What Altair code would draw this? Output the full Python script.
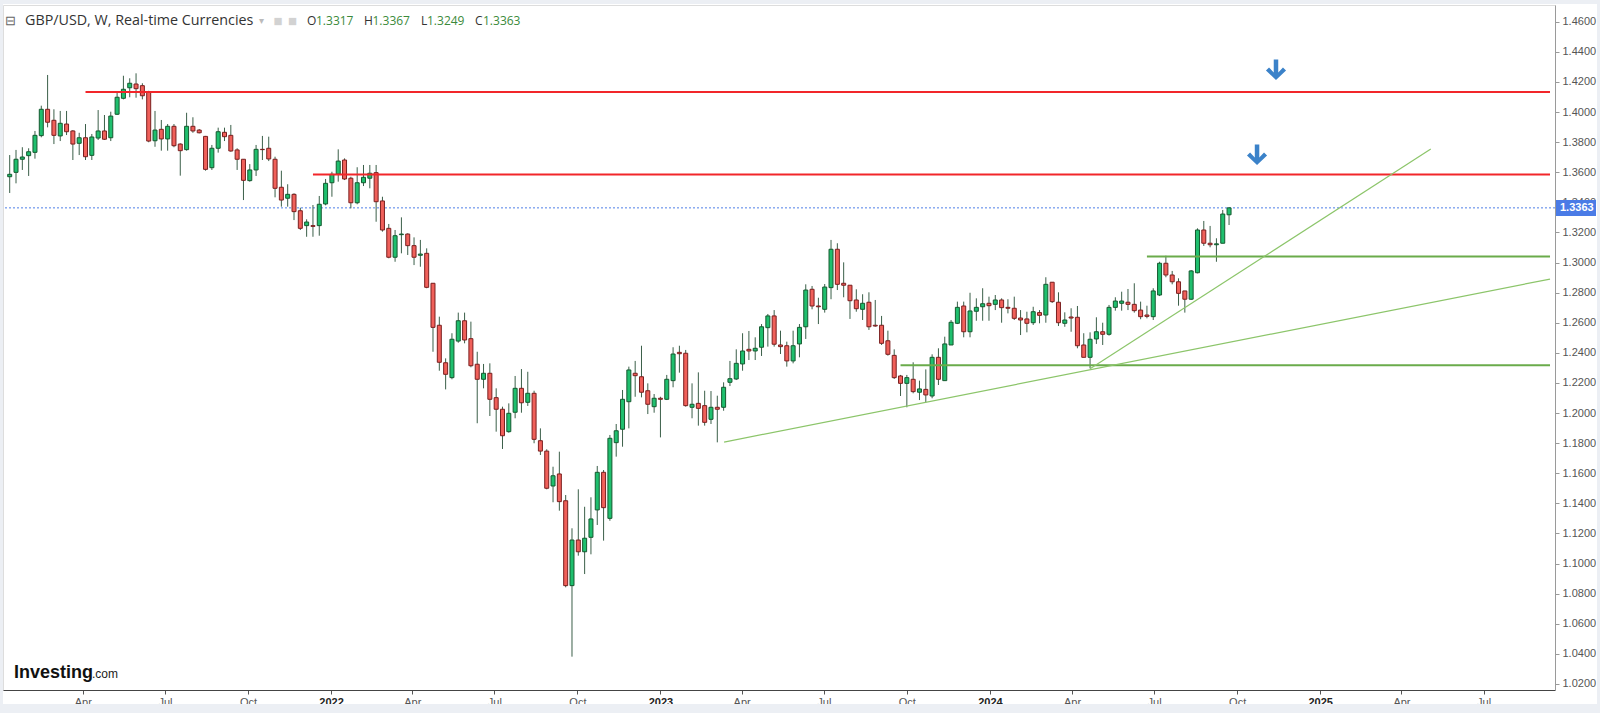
import altair as alt
import pandas as pd

# ---------------- data (weekly GBP/USD candles) ----------------
first_week = "2021-01-10"

opens = [1.3570,1.3599,1.3686,1.3710,1.3732,1.3843,1.4018,1.3945,1.3841,1.3920,
1.3874,1.3792,1.3829,1.3712,1.3827,1.3874,1.3829,1.3985,1.4091,1.4161,
1.4186,1.4175,1.4131,1.3809,1.3885,1.3821,1.3905,1.3787,1.3750,1.3905,
1.3880,1.3838,1.3630,1.3759,1.3865,1.3845,1.3748,1.3686,1.3544,1.3615,
1.3752,1.3759,1.3686,1.3500,1.3427,1.3453,1.3344,1.3245,1.3245,1.3245,
1.3389,1.3530,1.3588,1.3681,1.3560,1.3397,1.3530,1.3560,1.3597,1.3409,
1.3227,1.3035,1.3185,1.3189,1.3112,1.3048,1.3061,1.2862,1.2583,1.2334,
1.2235,1.2478,1.2613,1.2494,1.2324,1.2224,1.2264,1.2102,1.2025,1.1876,
1.2005,1.2164,1.2071,1.2131,1.1816,1.1747,1.1515,1.1595,1.1417,1.0853,
1.1156,1.1078,1.1174,1.1356,1.1606,1.1300,1.1803,1.1892,1.2075,1.2264,
1.2241,1.2148,1.2042,1.2098,1.2091,1.2215,1.2403,1.2397,1.2038,1.2064,
1.2049,1.1958,1.2038,1.2038,1.2204,1.2226,1.2326,1.2423,1.2412,1.2437,
1.2567,1.2645,1.2452,1.2447,1.2346,1.2459,1.2573,1.2822,1.2711,1.2689,
1.2833,1.3088,1.2862,1.2849,1.2751,1.2689,1.2736,1.2583,1.2583,1.2480,
1.2383,1.2246,1.2197,1.2224,1.2138,1.2157,1.2113,1.2370,1.2215,1.2452,
1.2596,1.2711,1.2540,1.2676,1.2706,1.2729,1.2722,1.2751,1.2702,1.2696,
1.2631,1.2625,1.2600,1.2667,1.2651,1.2869,1.2736,1.2596,1.2638,1.2636,
1.2452,1.2370,1.2492,1.2540,1.2523,1.2702,1.2729,1.2736,1.2722,1.2684,
1.2651,1.2640,1.2784,1.2995,1.2917,1.2872,1.2811,1.2756,1.2932,1.3216,
1.3128,1.3118,1.3128,1.3317]

closes = [1.3586,1.3686,1.3701,1.3736,1.3845,1.4018,1.3932,1.3845,1.3925,1.3869,
1.3787,1.3829,1.3703,1.3834,1.3874,1.3819,1.3973,1.4098,1.4151,1.4191,
1.4155,1.4108,1.3807,1.3880,1.3821,1.3905,1.3776,1.3743,1.3905,1.3874,
1.3862,1.3619,1.3759,1.3869,1.3836,1.3741,1.3686,1.3546,1.3615,1.3752,
1.3750,1.3688,1.3493,1.3415,1.3453,1.3338,1.3227,1.3269,1.3240,1.3387,
1.3526,1.3586,1.3674,1.3555,1.3397,1.3530,1.3566,1.3593,1.3404,1.3216,
1.3035,1.3178,1.3189,1.3112,1.3035,1.3056,1.2835,1.2569,1.2337,1.2257,
1.2490,1.2613,1.2485,1.2314,1.2224,1.2264,1.2091,1.2025,1.1849,1.1998,
1.2164,1.2068,1.2131,1.1825,1.1747,1.1500,1.1583,1.1411,1.0853,1.1156,
1.1078,1.1168,1.1296,1.1606,1.1371,1.1832,1.1882,1.2091,1.2286,1.2248,
1.2138,1.2058,1.2098,1.2091,1.2224,1.2392,1.2394,1.2049,1.2058,1.2031,
1.1938,1.2038,1.2025,1.2171,1.2228,1.2330,1.2412,1.2412,1.2430,1.2573,
1.2645,1.2457,1.2441,1.2346,1.2447,1.2569,1.2817,1.2711,1.2706,1.2837,
1.3088,1.2855,1.2849,1.2746,1.2693,1.2729,1.2573,1.2578,1.2463,1.2390,
1.2235,1.2197,1.2235,1.2142,1.2160,1.2120,1.2370,1.2224,1.2459,1.2603,
1.2702,1.2540,1.2678,1.2702,1.2726,1.2713,1.2751,1.2700,1.2696,1.2629,
1.2618,1.2596,1.2673,1.2649,1.2855,1.2740,1.2600,1.2618,1.2631,1.2447,
1.2370,1.2490,1.2540,1.2523,1.2702,1.2744,1.2744,1.2722,1.2680,1.2640,
1.2642,1.2811,1.2995,1.2917,1.2872,1.2795,1.2756,1.2944,1.3216,1.3128,
1.3118,1.3124,1.3322,1.3363]

highs = [1.3714,1.3748,1.3766,1.3759,1.3874,1.4042,1.4246,1.4018,1.4007,1.4007,
1.3880,1.3862,1.3920,1.3854,1.4013,1.3980,1.4002,1.4128,1.4241,1.4224,
1.4257,1.4191,1.4141,1.4007,1.3947,1.3920,1.3920,1.3792,1.3995,1.3965,
1.3887,1.3841,1.3781,1.3896,1.3896,1.3914,1.3759,1.3686,1.3654,1.3781,
1.3841,1.3836,1.3703,1.3610,1.3520,1.3460,1.3364,1.3287,1.3382,1.3442,
1.3555,1.3603,1.3752,1.3692,1.3570,1.3633,1.3648,1.3648,1.3648,1.3437,
1.3256,1.3216,1.3300,1.3194,1.3167,1.3150,1.3094,1.2862,1.2640,1.2363,
1.2530,1.2667,1.2667,1.2607,1.2407,1.2326,1.2330,1.2164,1.2042,1.2064,
1.2246,1.2292,1.2274,1.2148,1.1898,1.1759,1.1643,1.1743,1.1455,1.1234,
1.1493,1.1377,1.1440,1.1648,1.1621,1.1854,1.1927,1.2153,1.2308,1.2346,
1.2447,1.2197,1.2126,1.2108,1.2253,1.2437,1.2447,1.2419,1.2197,1.2270,
1.2148,1.2146,1.2115,1.2204,1.2346,1.2423,1.2530,1.2545,1.2503,1.2591,
1.2658,1.2684,1.2547,1.2474,1.2547,1.2591,1.2855,1.2844,1.2766,1.2857,
1.3150,1.3128,1.3001,1.2849,1.2822,1.2789,1.2802,1.2751,1.2645,1.2547,
1.2423,1.2253,1.2253,1.2337,1.2215,1.2290,1.2390,1.2430,1.2507,1.2618,
1.2740,1.2740,1.2799,1.2762,1.2829,1.2773,1.2784,1.2762,1.2756,1.2773,
1.2684,1.2673,1.2706,1.2684,1.2902,1.2869,1.2802,1.2669,1.2696,1.2711,
1.2530,1.2536,1.2636,1.2600,1.2718,1.2769,1.2806,1.2824,1.2862,1.2740,
1.2713,1.2829,1.3005,1.3045,1.2944,1.2895,1.2811,1.2950,1.3227,1.3276,
1.3243,1.3161,1.3349,1.3367]

lows = [1.3462,1.3526,1.3615,1.3575,1.3690,1.3832,1.3898,1.3787,1.3807,1.3847,
1.3681,1.3714,1.3681,1.3681,1.3814,1.3814,1.3807,1.3980,1.4084,1.4098,
1.4095,1.4084,1.3799,1.3769,1.3743,1.3743,1.3766,1.3577,1.3743,1.3862,
1.3858,1.3610,1.3615,1.3730,1.3807,1.3736,1.3615,1.3415,1.3537,1.3575,
1.3681,1.3674,1.3433,1.3371,1.3371,1.3282,1.3216,1.3171,1.3171,1.3178,
1.3380,1.3437,1.3537,1.3548,1.3360,1.3387,1.3508,1.3493,1.3271,1.3205,
1.3028,1.3005,1.3061,1.3050,1.2983,1.2972,1.2829,1.2407,1.2281,1.2157,
1.2224,1.2467,1.2463,1.2304,1.1932,1.2164,1.1980,1.1876,1.1761,1.1869,
1.1965,1.2002,1.2047,1.1799,1.1721,1.1493,1.1407,1.1351,1.0842,1.0381,
1.1052,1.0930,1.1061,1.1256,1.1152,1.1284,1.1710,1.1776,1.1898,1.2108,
1.2104,1.1993,1.2002,1.1838,1.2086,1.2171,1.2268,1.2042,1.1965,1.1916,
1.1916,1.1927,1.1805,1.2015,1.2179,1.2219,1.2281,1.2352,1.2352,1.2379,
1.2441,1.2441,1.2392,1.2308,1.2330,1.2370,1.2492,1.2689,1.2591,1.2667,
1.2756,1.2817,1.2769,1.2625,1.2673,1.2618,1.2552,1.2573,1.2452,1.2381,
1.2226,1.2113,1.2038,1.2131,1.2086,1.2071,1.2098,1.2186,1.2215,1.2452,
1.2591,1.2503,1.2503,1.2613,1.2613,1.2613,1.2684,1.2600,1.2662,1.2618,
1.2518,1.2536,1.2585,1.2596,1.2600,1.2731,1.2578,1.2573,1.2540,1.2430,
1.2370,1.2297,1.2459,1.2452,1.2514,1.2680,1.2680,1.2684,1.2667,1.2623,
1.2629,1.2618,1.2777,1.2902,1.2855,1.2713,1.2667,1.2751,1.2928,1.3110,
1.3101,1.3005,1.3128,1.3249]

# horizontal drawings (start date, price, colour)
hline_start = ["2021-04-04T00:00:00", "2021-12-12T00:00:00", "2024-06-23T00:00:00", "2023-09-24T00:00:00"]
hline_price = [1.4133, 1.3585, 1.3040, 1.2317]
hline_kind = ["red", "red", "green", "green"]

# trend lines
trend_start = ["2023-03-12T12:00:00", "2024-04-21T00:00:00"]
trend_end = ["2025-09-12T14:00:00", "2025-05-03T12:00:00"]
trend_p0 = [1.1807, 1.2294]
trend_p1 = [1.2890, 1.3754]

# arrows
arrow_date = ["2024-11-13T00:00:00", "2024-10-23T00:00:00"]
arrow_price = [1.4281, 1.3716]

y_ticks = [1.02, 1.04, 1.06, 1.08, 1.10, 1.12, 1.14, 1.16, 1.18, 1.20, 1.22, 1.24,
           1.26, 1.28, 1.30, 1.32, 1.34, 1.36, 1.38, 1.40, 1.42, 1.44, 1.46]
x_tick_months = [(2021, 4), (2021, 7), (2021, 10), (2022, 1), (2022, 4), (2022, 7), (2022, 10),
                 (2023, 1), (2023, 4), (2023, 7), (2023, 10), (2024, 1), (2024, 4), (2024, 7),
                 (2024, 10), (2025, 1), (2025, 4), (2025, 7)]

ohlc_letters = ["O", "H", "L", "C"]
ohlc_values = ["1.3317", "1.3367", "1.3249", "1.3363"]
last_price = "1.3363"

# ---------------- build ----------------
week_dates = pd.date_range(first_week, periods=len(opens), freq="7D").strftime("%Y-%m-%dT00:00:00")
candles = pd.DataFrame({"date": list(week_dates), "open": opens, "high": highs,
                        "low": lows, "close": closes})

W, H = 1552, 685
x_scale = alt.Scale(domain=[alt.DateTime(year=2021, month=1, date=8, hours=3),
                            alt.DateTime(year=2025, month=9, date=12, hours=14)], nice=False)
y_scale = alt.Scale(domain=[1.01595, 1.4711], nice=False, zero=False)

NARROW = "'Liberation Sans Narrow', 'Liberation Sans', Arial, sans-serif"

x_axis = alt.Axis(
    values=[alt.DateTime(year=y, month=m, date=1) for (y, m) in x_tick_months],
    labelExpr="month(datum.value) == 0 ? timeFormat(datum.value, '%Y') : timeFormat(datum.value, '%b')",
    labelFontWeight={"condition": {"test": "month(datum.value) == 0", "value": "bold"}, "value": "normal"},
    labelColor={"condition": {"test": "month(datum.value) == 0", "value": "#222222"}, "value": "#555555"},
    title=None, grid=False, tickSize=4, labelPadding=2, labelFontSize=11, labelFont=NARROW,
    domainColor="#444444", tickColor="#555555", labelFlush=False, labelOverlap=False,
)
y_axis = alt.Axis(
    orient="right", values=y_ticks, format=".4f", title=None, grid=False, tickSize=4,
    labelPadding=3, labelFontSize=11, labelFont=NARROW, labelColor="#555555",
    domainColor="#9a9a9a", tickColor="#9a9a9a", labelFlush=False, labelOverlap=False,
)


def X(field):
    return alt.X(field, scale=x_scale, axis=x_axis)


def Y(field):
    return alt.Y(field, scale=y_scale, axis=y_axis)


one = pd.DataFrame({"k": [0]})
FRAME = "#eceff4"


def strip(x0, x1, y0, y1):
    return alt.Chart(one).mark_rect(color=FRAME).encode(
        x=alt.value(x0), x2=alt.value(x1), y=alt.value(y0), y2=alt.value(y1))


# light grey frame around the chart (left, top, right, bottom band)
frame = [strip(-3, 0, -5, 708), strip(-3, 1597, -5, -1), strip(1594, 1597, -5, 708),
         strip(-3, 1597, 699, 708)]

last_line = alt.Chart(candles.tail(1)).mark_rule(color="#4f7fe8", strokeDash=[2, 2], strokeWidth=1).encode(
    y=Y("close:Q"))

wicks = alt.Chart(candles).mark_rule(color="#3b5f49", strokeWidth=1).encode(
    x=X("date:T"), y=Y("low:Q"), y2="high:Q")

is_down = "datum.open > datum.close"
bodies = alt.Chart(candles).mark_bar(size=4, strokeWidth=1).encode(
    x=X("date:T"),
    y=Y("open:Q"),
    y2="close:Q",
    color=alt.condition(is_down, alt.value("#f0605a"), alt.value("#1fbf6e")),
    stroke=alt.condition(is_down, alt.value("#7a1f1f"), alt.value("#15592f")),
)

hdf = pd.DataFrame({"start": hline_start, "end": trend_end[0], "price": hline_price, "kind": hline_kind})
hlines = alt.Chart(hdf).mark_rule(strokeWidth=2).encode(
    x=X("start:T"),
    x2="end:T",
    y=Y("price:Q"),
    color=alt.Color("kind:N", scale=alt.Scale(domain=["red", "green"], range=["#f2262a", "#6aab4b"]), legend=None),
)

tdf = pd.DataFrame({"start": trend_start, "end": trend_end, "p0": trend_p0, "p1": trend_p1})
tlines = alt.Chart(tdf).mark_rule(strokeWidth=1.2, color="#8cc56a").encode(
    x=X("start:T"), x2="end:T", y=Y("p0:Q"), y2="p1:Q")

arrow_path = "M -0.22 -1 L 0.22 -1 L 0.22 0.26 L 0.68 -0.22 L 0.98 0.08 L 0 1 L -0.98 0.08 L -0.68 -0.22 L -0.22 0.26 Z"
adf = pd.DataFrame({"date": arrow_date, "price": arrow_price})
arrows = alt.Chart(adf).mark_point(shape=arrow_path, filled=True, size=420, color="#3b82c9", opacity=1).encode(
    x=X("date:T"), y=Y("price:Q"))

tag_box = alt.Chart(one).mark_rect(color="#4a7be6").encode(
    x=alt.value(1553), x2=alt.value(1593), y=alt.value(195), y2=alt.value(211))
tag_text = alt.Chart(candles.tail(1)).mark_text(
    text=last_price, color="#ffffff", fontSize=11, fontWeight="bold", font="Liberation Sans",
    align="left", baseline="middle").encode(
    x=alt.value(1557), y=Y("close:Q"))


def label(text, x, y, **kw):
    return alt.Chart(one).mark_text(text=text, **kw).encode(x=alt.value(x), y=alt.value(y))


header = [
    label("⊟", 7, 16, fontSize=13, color="#666666", align="center", baseline="middle"),
    label("GBP/USD, W, Real-time Currencies", 22, 16, fontSize=14.3, color="#333333",
          font="Open Sans", align="left", baseline="middle"),
    label("▾", 258, 16, fontSize=10, color="#bbbbbb", align="center", baseline="middle"),
    label("■", 275, 16, fontSize=15, color="#d2d2d2", align="center", baseline="middle"),
    label("■", 289.5, 16, fontSize=15, color="#d2d2d2", align="center", baseline="middle"),
]
ohlc_x = [304, 361, 418, 472]
ohlc_gap = [9, 8.5, 6, 8]
for letter, val, px, gap in zip(ohlc_letters, ohlc_values, ohlc_x, ohlc_gap):
    header.append(label(letter, px, 16, fontSize=12, color="#333333", font="Open Sans",
                        align="left", baseline="middle"))
    header.append(label(val, px + gap, 16, fontSize=12, color="#3b8a3b", font="Open Sans",
                        align="left", baseline="middle"))

logo = [
    label("Investing", 11, 673, fontSize=18, fontWeight="bold", color="#111111",
          font="Liberation Sans", align="left", baseline="alphabetic"),
    label(".com", 89, 673, fontSize=12, color="#222222", font="Liberation Sans",
          align="left", baseline="alphabetic"),
]

chart = alt.layer(
    *frame, last_line, wicks, bodies, hlines, tlines, arrows,
    tag_box, tag_text, *header, *logo,
).properties(
    width=W, height=H,
    padding={"left": 3, "top": 5, "right": 45, "bottom": 23},
    autosize=alt.AutoSizeParams(type="none"),
).configure_view(stroke=None).configure(background="#ffffff")

chart.save("out.html", embed_options={"renderer": "svg", "actions": False})
